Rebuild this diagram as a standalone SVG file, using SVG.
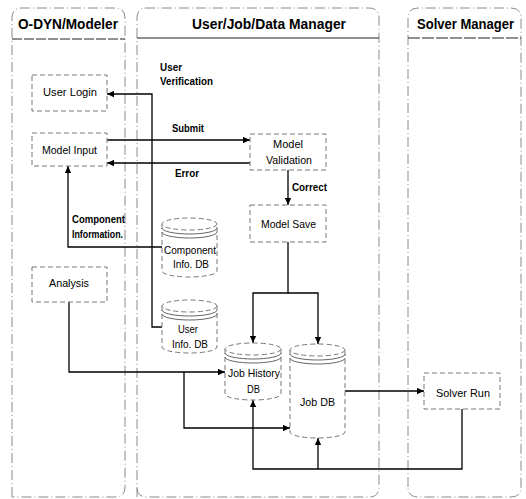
<svg xmlns="http://www.w3.org/2000/svg" width="526" height="499" viewBox="0 0 526 499">
<defs>
<style>
.lane{fill:none;stroke:#8a8a8a;stroke-width:1;stroke-dasharray:10 3 1 3}
.hdr{stroke:#222;stroke-width:1.2}
.box{fill:#fff;stroke:#777;stroke-width:1;stroke-dasharray:5 3}
.cyl{fill:#fff;stroke:#777;stroke-width:1;stroke-dasharray:5 3}
.ring{fill:none;stroke:#666;stroke-width:1}
.con{fill:none;stroke:#000;stroke-width:1.3}
.ht{font-family:"Liberation Sans",Arial,sans-serif;font-weight:bold;font-size:14px;fill:#000}
.nt{font-family:"Liberation Sans",Arial,sans-serif;font-size:11px;fill:#000}
.lt{font-family:"Liberation Sans",Arial,sans-serif;font-weight:bold;font-size:10px;fill:#000}
</style>
<marker id="arr" viewBox="0 0 10 10" refX="10" refY="5" markerWidth="9" markerHeight="7" markerUnits="userSpaceOnUse" orient="auto"><path d="M0,0.5 L10,5 L0,9.5 z" fill="#000"/></marker>
</defs>
<rect width="526" height="499" fill="#fff"/>

<g id="lanes">
<g id="lane-modeler">
<path class="lane" d="M12,497 V18 Q12,8 22,8 H115 Q125,8 125,18 V487 Q125,497 115,497 Z"/>
<line class="hdr" x1="12" y1="39" x2="125" y2="39" stroke="#555" stroke-dasharray="10 2"/>
<text class="ht" x="18" y="29" textLength="100" lengthAdjust="spacingAndGlyphs">O-DYN/Modeler</text>
</g>
<g id="lane-manager">
<path class="lane" d="M137,497 V18 Q137,8 147,8 H369 Q379,8 379,18 V487 Q379,497 369,497 H147 Q137,497 137,487"/>
<line class="hdr" x1="137" y1="38" x2="379" y2="38"/>
<text class="ht" x="192" y="29" textLength="154" lengthAdjust="spacingAndGlyphs">User/Job/Data Manager</text>
</g>
<g id="lane-solver">
<path class="lane" d="M408,487 V18 Q408,8 418,8 H511 Q521,8 521,18 V487 Q521,497 511,497 H418 Q408,497 408,487"/>
<line class="hdr" x1="408" y1="38" x2="521" y2="38" stroke="#555" stroke-dasharray="12 2"/>
<text class="ht" x="417" y="29" textLength="97" lengthAdjust="spacingAndGlyphs">Solver Manager</text>
</g>
</g>

<g id="connectors">
<path class="con" d="M162,327 H152 V94 H107" marker-end="url(#arr)"/>
<path class="con" d="M107,140 H250" marker-end="url(#arr)"/>
<path class="con" d="M250,163 H107" marker-end="url(#arr)"/>
<path class="con" d="M288,170 V205" marker-end="url(#arr)"/>
<path class="con" d="M162,247 H68 V166" marker-end="url(#arr)"/>
<path class="con" d="M69,302 V372 H225" marker-end="url(#arr)"/>
<path class="con" d="M184,372 V428 H290" marker-end="url(#arr)"/>
<path class="con" d="M288,242 V293 H253 V343" marker-end="url(#arr)"/>
<path class="con" d="M288,293 H318 V344" marker-end="url(#arr)"/>
<path class="con" d="M345,391 H424" marker-end="url(#arr)"/>
<path class="con" d="M462,409 V469 H253 V400" marker-end="url(#arr)"/>
<path class="con" d="M318,469 V438" marker-end="url(#arr)"/>
<text class="lt" x="160" y="71" textLength="22" lengthAdjust="spacingAndGlyphs">User</text>
<text class="lt" x="160" y="85" textLength="53" lengthAdjust="spacingAndGlyphs">Verification</text>
<text class="lt" x="172" y="132" textLength="32" lengthAdjust="spacingAndGlyphs">Submit</text>
<text class="lt" x="175" y="177" textLength="24" lengthAdjust="spacingAndGlyphs">Error</text>
<text class="lt" x="292" y="191" textLength="35" lengthAdjust="spacingAndGlyphs">Correct</text>
<text class="lt" x="72" y="223" textLength="53" lengthAdjust="spacingAndGlyphs">Component</text>
<text class="lt" x="72" y="238" textLength="51" lengthAdjust="spacingAndGlyphs">Information.</text>
</g>

<g id="user-login">
<rect class="box" x="32" y="75" width="75" height="36"/>
<text class="nt" x="43" y="96" textLength="54" lengthAdjust="spacingAndGlyphs">User Login</text>
</g>
<g id="model-input">
<rect class="box" x="32" y="133" width="75" height="33"/>
<text class="nt" x="42" y="154" textLength="55" lengthAdjust="spacingAndGlyphs">Model Input</text>
</g>
<g id="analysis">
<rect class="box" x="32" y="267" width="75" height="35"/>
<text class="nt" x="49" y="287" textLength="40" lengthAdjust="spacingAndGlyphs">Analysis</text>
</g>
<g id="model-validation">
<rect class="box" x="250" y="134" width="76" height="36"/>
<text class="nt" x="273" y="148" textLength="30" lengthAdjust="spacingAndGlyphs">Model</text>
<text class="nt" x="266" y="164" textLength="46" lengthAdjust="spacingAndGlyphs">Validation</text>
</g>
<g id="model-save">
<rect class="box" x="250" y="205" width="76" height="37"/>
<text class="nt" x="261" y="228" textLength="55" lengthAdjust="spacingAndGlyphs">Model Save</text>
</g>
<g id="solver-run">
<rect class="box" x="424" y="373" width="76" height="36"/>
<text class="nt" x="436" y="397" textLength="54" lengthAdjust="spacingAndGlyphs">Solver Run</text>
</g>

<g id="component-db">
<path class="cyl" d="M162,224 V271 A27.5,6 0 0 0 217,271 V224"/>
<ellipse class="cyl" cx="189.5" cy="224" rx="27.5" ry="6"/>
<path class="ring" d="M162,228 A27.5,6 0 0 0 217,228 M162,232 A27.5,6 0 0 0 217,232"/>
<text class="nt" x="164" y="254" textLength="52" lengthAdjust="spacingAndGlyphs">Component</text>
<text class="nt" x="173" y="268" textLength="36" lengthAdjust="spacingAndGlyphs">Info. DB</text>
</g>
<g id="user-db">
<path class="cyl" d="M162,306 V347 A27.5,6 0 0 0 217,347 V306"/>
<ellipse class="cyl" cx="189.5" cy="306" rx="27.5" ry="6"/>
<path class="ring" d="M162,310 A27.5,6 0 0 0 217,310 M162,314 A27.5,6 0 0 0 217,314"/>
<text class="nt" x="178" y="333" textLength="20" lengthAdjust="spacingAndGlyphs">User</text>
<text class="nt" x="172" y="348" textLength="36" lengthAdjust="spacingAndGlyphs">Info. DB</text>
</g>
<g id="job-history-db">
<path class="cyl" d="M225,349 V394 A28,6 0 0 0 281,394 V349"/>
<ellipse class="cyl" cx="253" cy="349" rx="28" ry="6"/>
<path class="ring" d="M225,353 A28,6 0 0 0 281,353 M225,357 A28,6 0 0 0 281,357"/>
<text class="nt" x="228" y="377" textLength="52" lengthAdjust="spacingAndGlyphs">Job History</text>
<text class="nt" x="247" y="393" textLength="13" lengthAdjust="spacingAndGlyphs">DB</text>
</g>
<g id="job-db">
<path class="cyl" d="M290,350 V432 A27.5,6 0 0 0 345,432 V350"/>
<ellipse class="cyl" cx="317.5" cy="350" rx="27.5" ry="6"/>
<path class="ring" d="M290,354 A27.5,6 0 0 0 345,354 M290,358 A27.5,6 0 0 0 345,358"/>
<text class="nt" x="300" y="406" textLength="35" lengthAdjust="spacingAndGlyphs">Job DB</text>
</g>
</svg>
